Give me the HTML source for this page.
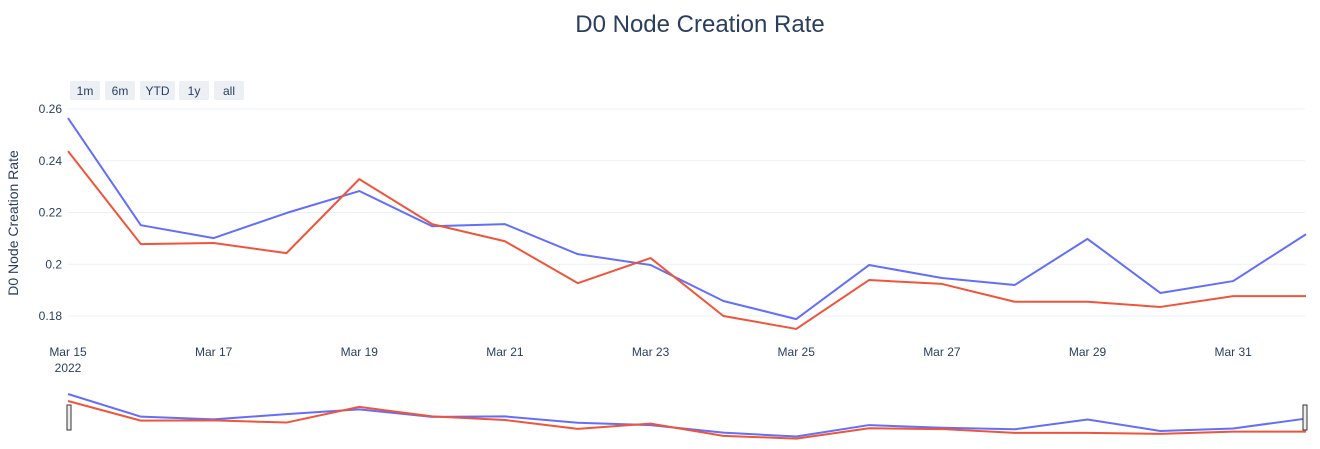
<!DOCTYPE html>
<html><head><meta charset="utf-8"><style>
body{margin:0;background:#fff;font-family:"Liberation Sans",Arial,sans-serif}
svg text{font-family:"Liberation Sans",Arial,sans-serif}
</style></head><body>
<svg id="c" width="1320" height="444">
<text x="700" y="32" text-anchor="middle" font-size="24" fill="#2a3f5f">D0 Node Creation Rate</text>
<text transform="translate(18,223) rotate(-90)" text-anchor="middle" font-size="14" fill="#2a3f5f">D0 Node Creation Rate</text>
<g id="grid"></g><g id="lines"></g><g id="xt"></g><g id="btns"></g><g id="slider"></g>
</svg>
<script>
const dayOffsets=[0,1,2,3,4,5,6,7,8,9,10,11,12,13,14,15,16,17];
const blueVals=[0.2565,0.2151,0.2101,0.2198,0.2283,0.2147,0.2155,0.2039,0.1997,0.1858,0.1788,0.1997,0.1947,0.1920,0.2098,0.1889,0.1935,0.2116];
const redVals=[0.2437,0.2078,0.2082,0.2043,0.2329,0.2155,0.2089,0.1927,0.2024,0.1800,0.1750,0.1939,0.1924,0.1855,0.1855,0.1835,0.1877,0.1877];
const yTicks=[0.18,0.2,0.22,0.24,0.26];
const yTickLabels=["0.18","0.2","0.22","0.24","0.26"];
const xTickDays=[0,2,4,6,8,10,12,14,16];
const xTickLabels=["Mar 15","Mar 17","Mar 19","Mar 21","Mar 23","Mar 25","Mar 27","Mar 29","Mar 31"];
const rangeButtons=["1m","6m","YTD","1y","all"];
const NS="http://www.w3.org/2000/svg";
const X=d=>68+d*(1306-68)/17;
const Y=v=>316-(v-0.18)*(207/0.08);
const SY=v=>394+(0.2565-v)*547;
function mk(t,a,p){const e=document.createElementNS(NS,t);for(const k in a)e.setAttribute(k,a[k]);p.appendChild(e);return e;}
const grid=document.getElementById('grid');
yTicks.forEach((v,i)=>{
 const l=mk('line',{x1:68,x2:1305,y1:Y(v),y2:Y(v),stroke:'#ebf0f8','stroke-width':1},grid);
 
 
 const t=mk('text',{x:62,y:Y(v)+4,'text-anchor':'end','font-size':12,fill:'#2a3f5f'},grid);
 t.textContent=yTickLabels[i];
 
 
});
const xt=document.getElementById('xt');
xTickDays.forEach((d,i)=>{
 const t=mk('text',{x:X(d),y:356,'text-anchor':'middle','font-size':12,fill:'#2a3f5f'},xt);
 t.textContent=xTickLabels[i];
 
 
});
const y2=mk('text',{x:X(0),y:372,'text-anchor':'middle','font-size':12,fill:'#2a3f5f'},xt);
y2.textContent='2022';


const lines=document.getElementById('lines');
function series(vals,col,name,fy,g,w){
 const p=mk('polyline',{points:vals.map((v,i)=>X(dayOffsets[i])+','+fy(v)).join(' '),fill:'none',stroke:col,'stroke-width':w,'stroke-linejoin':'round'},g);
 
 
}
series(blueVals,'#636efa','series-blue-line',Y,lines,2);
series(redVals,'#ef553b','series-red-line',Y,lines,2);
const btns=document.getElementById('btns');
const bx=[70,105,140,179,214],bw=[30,30,35,30,30];
rangeButtons.forEach((b,i)=>{
 const r=mk('rect',{x:bx[i],y:81,width:bw[i],height:19,rx:2,fill:'#eceff3'},btns);
 
 
 const t=mk('text',{x:bx[i]+bw[i]/2,y:95,'text-anchor':'middle','font-size':12,fill:'#2a3f5f'},btns);
 t.textContent=b;
 
 
});
const sl=document.getElementById('slider');
series(blueVals,'#636efa','slider-blue-line',SY,sl,2);
series(redVals,'#ef553b','slider-red-line',SY,sl,2);
[[67,'slider-handle-left'],[1303,'slider-handle-right']].forEach(([x,n])=>{
 const r=mk('rect',{x:x,y:405,width:4,height:25,fill:'#eee',stroke:'#333','stroke-width':1},sl);
 
 
});
</script>
</body></html>
